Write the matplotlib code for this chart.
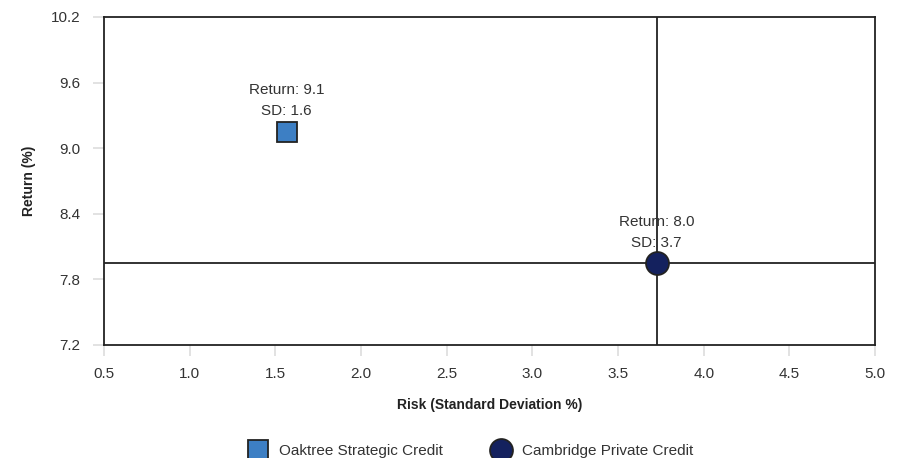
import numpy as np
import matplotlib
matplotlib.use('Agg')
import matplotlib.pyplot as plt
from matplotlib.lines import Line2D

plt.rcParams['font.family'] = ['Liberation Sans', 'DejaVu Sans']

names = ['Oaktree Strategic Credit', 'Cambridge Private Credit']
risk = [1.565, 3.725]
ret = [9.15, 7.945]
ret_labels = ['9.1', '8.0']
sd_labels = ['1.6', '3.7']
markers = ['s', 'o']
colors = ['#3d7fc4', '#14215e']
sizes = [15, 16.5]

xticks = [0.5, 1.0, 1.5, 2.0, 2.5, 3.0, 3.5, 4.0, 4.5, 5.0]
yticks = [7.2, 7.8, 8.4, 9.0, 9.6, 10.2]

fig = plt.figure(figsize=(9.05, 4.58), dpi=100)
ax = fig.add_axes([0.115, 0.247, 0.852, 0.716])

# crosshair on the benchmark
ax.axvline(risk[1], color='#222222', lw=1.3, zorder=1)
ax.axhline(ret[1], color='#222222', lw=1.3, zorder=1)

for i in range(len(names)):
    ax.plot(risk[i], ret[i], marker=markers[i], ms=sizes[i], color=colors[i],
            mec='#222222', mew=1.3, ls='none', zorder=3)
    ax.annotate('Return: %s\nSD: %s' % (ret_labels[i], sd_labels[i]),
                (risk[i], ret[i]), xytext=(0, 10), textcoords='offset points',
                ha='center', va='bottom', fontsize=11, color='#333333',
                linespacing=1.6, zorder=4)

ax.set_xlim(0.5, 5.0)
ax.set_ylim(7.2, 10.2)
ax.set_xticks(xticks)
ax.set_yticks(yticks)
ax.set_xticklabels(['%.1f' % v for v in xticks])
ax.set_yticklabels(['%.1f' % v for v in yticks])
ax.tick_params(axis='both', length=8, width=1.2, color='#dddddd',
               labelsize=11, labelcolor='#333333')
ax.tick_params(axis='x', pad=8)
ax.tick_params(axis='y', pad=9)
for s in ax.spines.values():
    s.set_color('#222222')
    s.set_linewidth(1.3)

ax.set_xlabel('Risk (Standard Deviation %)', fontsize=10, fontweight='bold',
              color='#222222', labelpad=12)
ax.set_ylabel('Return (%)', fontsize=10, fontweight='bold', color='#222222',
              labelpad=11)

handles = [Line2D([], [], marker=markers[i], ms=sizes[i], color=colors[i],
                  mec='#222222', mew=1.3, ls='none') for i in range(len(names))]
fig.legend(handles, names, loc='lower center', bbox_to_anchor=(0.517, -0.03),
           ncol=2, frameon=False, fontsize=11, handletextpad=0.4,
           columnspacing=2.8, labelcolor='#333333')

fig.savefig('out.png', dpi=100)
